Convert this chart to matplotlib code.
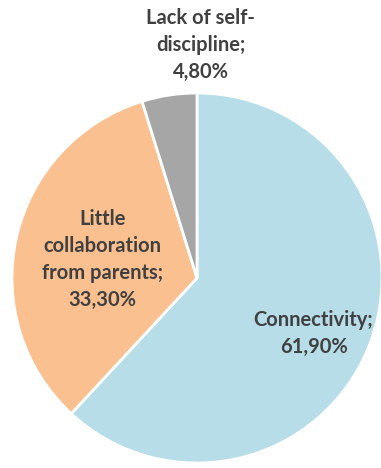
import matplotlib
matplotlib.use("Agg")
import matplotlib.pyplot as plt

labels = ["Connectivity;\n61,90%", "Little\ncollaboration\nfrom parents;\n33,30%", "Lack of self-\ndiscipline;\n4,80%"]
values = [61.9, 33.3, 4.8]
colors = ["#B7DDE8", "#FAC090", "#A6A6A6"]
label_pos = [(0.63, -0.30), (-0.51, 0.10), (0.02, 1.26)]

fig = plt.figure(figsize=(3.81, 4.68), dpi=100)
ax = fig.add_axes([12 / 381, 5 / 468, 370 / 381, 370 / 468])
ax.pie(values, colors=colors, startangle=90, counterclock=False,
       wedgeprops={"edgecolor": "white", "linewidth": 2})
ax.set_xlim(-1, 1)
ax.set_ylim(-1, 1)
ax.set_aspect("equal")
ax.axis("off")

for lab, (x, y) in zip(labels, label_pos):
    ax.text(x, y, lab, ha="center", va="center", fontsize=14.5, fontweight="bold",
            color="#404040", family="Lato", linespacing=1.45, clip_on=False)

fig.savefig("out.png", dpi=100)
